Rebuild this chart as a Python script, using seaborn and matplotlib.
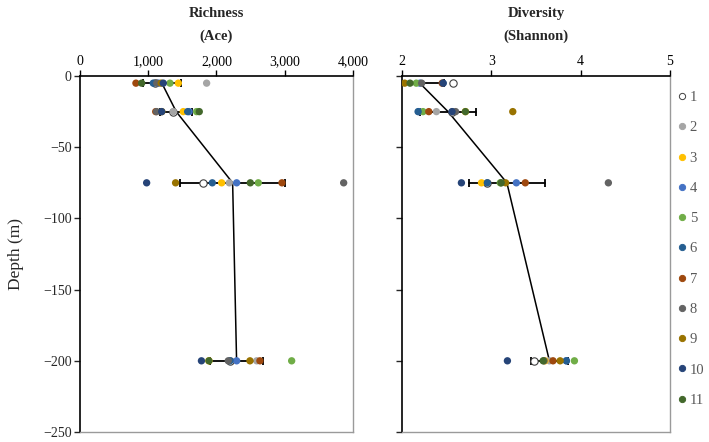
import seaborn as sns
import matplotlib.pyplot as plt
import pandas as pd
from matplotlib.lines import Line2D
from matplotlib.ticker import StrMethodFormatter

# sites 1..11, one list per sampling depth
sites = [str(i) for i in range(1, 12)]
depths = [-5, -25, -75, -200]

rich_5 = [1100, 1856, 1441, 1150, 1319, 1074, 820, 1125, 1190, 1221, 904]
rich_25 = [1367, 1367, 1514, 1600, 1709, 1578, 1110, 1123, 1200, 1197, 1748]
rich_75 = [1797, 2188, 2076, 2296, 2613, 1939, 2960, 3864, 1401, 977, 2496]
rich_200 = [2198, 2590, 1890, 2296, 3102, 2198, 2637, 2173, 2491, 1780, 1890]

div_5 = [2.57, 1.70, 1.85, 2.20, 2.16, 2.46, 2.45, 2.22, 2.03, 2.46, 2.09]
div_25 = [2.56, 2.385, 2.71, 2.19, 2.235, 2.18, 2.30, 2.60, 3.24, 2.56, 2.71]
div_75 = [2.955, 3.11, 2.89, 3.28, 3.10, 2.955, 3.38, 4.31, 3.16, 2.665, 3.11]
div_200 = [3.48, 3.65, 3.60, 3.84, 3.93, 3.84, 3.69, 3.59, 3.77, 3.18, 3.58]

site_colors = ['white', '#A5A5A5', '#FFC000', '#4472C4', '#70AD47', '#255E91',
               '#9E480E', '#636363', '#997300', '#264478', '#43682B']

rows = []
for d, r, s in zip(depths, [rich_5, rich_25, rich_75, rich_200], [div_5, div_25, div_75, div_200]):
    for i in range(len(sites)):
        rows.append({'Depth': d, 'Site': sites[i], 'Richness': r[i], 'Diversity': s[i]})
df = pd.DataFrame(rows)

sns.set_style('white')
plt.rcParams['font.family'] = ['Liberation Serif', 'DejaVu Serif']
plt.rcParams['axes.unicode_minus'] = True

fig = plt.figure(figsize=(7.09, 4.42), dpi=100)
ax1 = fig.add_axes([0.1128, 0.0226, 0.385, 0.8054])
ax2 = fig.add_axes([0.567, 0.0226, 0.378, 0.8054])

for ax, col, lim, ticks, title in [
        (ax1, 'Richness', (0, 4000), [0, 1000, 2000, 3000, 4000], 'Richness\n(Ace)'),
        (ax2, 'Diversity', (2, 5), [2, 3, 4, 5], 'Diversity\n(Shannon)')]:
    sns.lineplot(data=df, x=col, y='Depth', orient='y', estimator='mean', errorbar='sd',
                 err_style='bars', color='black', linewidth=1.1, ax=ax,
                 err_kws={'capsize': 3, 'elinewidth': 1.3, 'capthick': 1.3})
    for i, s in enumerate(sites):
        sub = df[df['Site'] == s]
        ec = '#404040' if i == 0 else 'none'
        sns.scatterplot(data=sub, x=col, y='Depth', color=site_colors[i], edgecolor=ec,
                        linewidth=0.8, s=28, ax=ax, zorder=3, legend=False)
    ax.set_xlim(*lim)
    ax.set_ylim(-250, 0)
    ax.set_xticks(ticks)
    ax.set_yticks([0, -50, -100, -150, -200, -250])
    ax.xaxis.tick_top()
    ax.xaxis.set_label_position('top')
    ax.tick_params(axis='x', direction='out', length=4, width=1, labelsize=10, pad=2, colors='black')
    ax.tick_params(axis='y', direction='out', length=4, width=1, labelsize=10, pad=2, left=True)
    ax.set_xlabel('')
    ax.set_ylabel('')
    ax.set_title(title, fontweight='bold', fontsize=10.5, pad=26, linespacing=1.9)
    for side in ['top', 'left']:
        ax.spines[side].set_color('black')
        ax.spines[side].set_linewidth(1.2)
    for side in ['right', 'bottom']:
        ax.spines[side].set_color('#9a9a9a')
        ax.spines[side].set_linewidth(1.0)

ax1.xaxis.set_major_formatter(StrMethodFormatter('{x:,.0f}'))
ax1.set_ylabel('Depth (m)', fontsize=12.5, labelpad=14)
ax2.set_yticklabels([])

handles = []
for i, s in enumerate(sites):
    handles.append(Line2D([], [], linestyle='', marker='o', markersize=4.5,
                          markerfacecolor=site_colors[i],
                          markeredgecolor='#404040' if i == 0 else site_colors[i],
                          markeredgewidth=0.7))
leg = fig.legend(handles, sites, loc='center left', bbox_to_anchor=(0.948, 0.437),
                 frameon=False, fontsize=10.5, handlelength=0.6, handletextpad=0.2,
                 labelspacing=1.17, borderaxespad=0)
for t in leg.get_texts():
    t.set_color('#595959')

fig.savefig('out.png', dpi=100)
